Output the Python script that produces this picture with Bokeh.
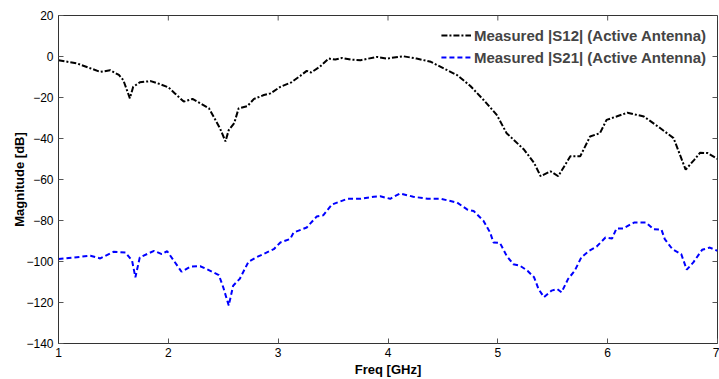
import math
from bokeh.plotting import figure
from bokeh.models import FixedTicker, Legend, LegendItem, Range1d
from bokeh.embed import file_html
from bokeh.resources import INLINE

freq_s12 = [1.0, 1.17, 1.38, 1.47, 1.55, 1.59, 1.65, 1.68, 1.74, 1.84, 1.93, 2.0, 2.06,
            2.14, 2.22, 2.29, 2.37, 2.41, 2.47, 2.52, 2.55, 2.6, 2.64, 2.72, 2.78, 2.87,
            2.93, 3.02, 3.12, 3.2, 3.26, 3.3, 3.38, 3.46, 3.52, 3.58, 3.66, 3.75, 3.9,
            3.99, 4.14, 4.26, 4.39, 4.51, 4.63, 4.75, 4.87, 4.99, 5.08, 5.24, 5.33, 5.39,
            5.48, 5.55, 5.66, 5.75, 5.84, 5.93, 5.99, 6.08, 6.18, 6.33, 6.48, 6.6, 6.71,
            6.79, 6.84, 6.91, 7.0]
s12_db = [-1.8, -3.4, -7.5, -6.7, -9.0, -11.5, -20.4, -14.8, -12.6, -12.0, -13.6, -15.0, -18.0,
          -22.0, -20.7, -22.8, -25.3, -29.1, -35.0, -41.4, -35.9, -32.5, -25.3, -24.2, -20.7, -18.8,
          -18.0, -14.8, -12.6, -9.5, -7.0, -7.8, -5.0, -1.0, -1.5, -0.7, -1.5, -1.8, -0.2,
          -1.0, 0.1, -1.0, -2.6, -5.9, -9.1, -14.4, -21.2, -28.5, -37.4, -45.5, -51.9, -58.4,
          -56.0, -58.4, -48.7, -48.7, -39.0, -37.4, -30.9, -29.3, -27.4, -29.3, -35.0, -39.8, -55.2,
          -50.3, -47.0, -47.1, -50.0]

freq_s21 = [1.0, 1.29, 1.38, 1.5, 1.61, 1.67, 1.7, 1.74, 1.87, 1.94, 1.99, 2.05, 2.12, 2.2,
            2.29, 2.35, 2.46, 2.5, 2.55, 2.59, 2.65, 2.73, 2.8, 2.96, 3.02, 3.11, 3.14, 3.26,
            3.35, 3.41, 3.49, 3.63, 3.75, 3.87, 3.93, 4.02, 4.11, 4.23, 4.36, 4.48, 4.63,
            4.72, 4.78, 4.87, 4.93, 4.96, 5.02, 5.08, 5.14, 5.2, 5.27, 5.33, 5.37, 5.42,
            5.49, 5.54, 5.58, 5.64, 5.7, 5.76, 5.83, 5.9, 5.98, 6.04, 6.08, 6.14, 6.24,
            6.35, 6.42, 6.49, 6.52, 6.59, 6.67, 6.72, 6.78, 6.86, 6.93, 7.0]
s21_db = [-98.8, -97.2, -98.5, -95.3, -95.6, -99.6, -107.7, -98.0, -94.8, -96.4, -95.0, -99.6, -105.0, -102.5,
          -102.3, -103.7, -106.6, -112.6, -121.5, -111.8, -108.5, -100.1, -98.0, -94.0, -90.7, -89.0, -85.9, -83.4,
          -78.1, -77.5, -72.2, -69.4, -69.4, -68.4, -68.2, -69.4, -66.8, -68.4, -69.4, -69.4, -71.3,
          -74.6, -75.4, -80.2, -85.9, -90.7, -91.0, -97.2, -101.3, -102.0, -104.5, -107.7, -113.4, -117.4,
          -114.2, -113.4, -115.0, -108.5, -104.5, -98.0, -94.8, -92.7, -88.3, -88.8, -83.9, -83.9, -81.0,
          -81.0, -84.3, -84.5, -89.1, -94.0, -96.4, -104.0, -100.4, -94.3, -93.2, -94.8]

x_ticks = [1, 2, 3, 4, 5, 6, 7]
y_ticks = [20, 0, -20, -40, -60, -80, -100, -120, -140]
labels = ["Measured |S12| (Active Antenna)", "Measured |S21| (Active Antenna)"]

FONT = "Liberation Sans"
TICK_COLOR = "#555555"

p = figure(width=719, height=379, output_backend="svg", toolbar_location=None,
           x_range=Range1d(min(x_ticks), max(x_ticks)), y_range=Range1d(min(y_ticks), max(y_ticks)),
           min_border_left=58, min_border_right=2, min_border_top=15, min_border_bottom=34)
p.background_fill_color = "white"
p.border_fill_color = "white"
p.grid.visible = False
p.outline_line_color = "#333333"
p.outline_line_width = 1

r1 = p.line(freq_s12, s12_db, line_color="black", line_width=2, line_dash="6 2 2 2")
r2 = p.line(freq_s21, s21_db, line_color="#0000ff", line_width=2, line_dash="5 3")

# mirrored inward ticks on top and right edges
p.ray(x=x_ticks, y=[max(y_ticks)] * len(x_ticks), length=5, length_units="screen",
      angle=-math.pi / 2, line_color=TICK_COLOR, line_width=1)
p.ray(x=[max(x_ticks)] * len(y_ticks), y=y_ticks, length=5, length_units="screen",
      angle=math.pi, line_color=TICK_COLOR, line_width=1)

for ax in [p.xaxis[0], p.yaxis[0]]:
    ax.major_tick_in = 5
    ax.major_tick_out = 0
    ax.minor_tick_in = 0
    ax.minor_tick_out = 0
    ax.axis_line_color = "#333333"
    ax.major_tick_line_color = TICK_COLOR
    ax.major_label_text_font = FONT
    ax.major_label_text_font_size = "12px"
    ax.major_label_text_color = "black"
    ax.axis_label_text_font = FONT
    ax.axis_label_text_font_style = "bold"
    ax.axis_label_text_font_size = "13px"
    ax.axis_label_text_color = "black"

p.xaxis[0].ticker = FixedTicker(ticks=x_ticks)
p.yaxis[0].ticker = FixedTicker(ticks=y_ticks)
p.xaxis[0].axis_label = "Freq [GHz]"
p.yaxis[0].axis_label = "Magnitude [dB]"
p.xaxis[0].major_label_standoff = 4
p.yaxis[0].major_label_standoff = 5
p.xaxis[0].axis_label_standoff = 2
p.yaxis[0].axis_label_standoff = -4

legend = Legend(items=[LegendItem(label=labels[0], renderers=[r1]),
                       LegendItem(label=labels[1], renderers=[r2])],
                location="top_right", label_text_font=FONT, label_text_font_style="bold",
                label_text_font_size="15px", background_fill_alpha=0, border_line_alpha=0,
                glyph_width=30, glyph_height=16, spacing=4, padding=5, margin=6,
                label_standoff=3, label_height=18)
p.add_layout(legend)

open("out.html", "w").write(file_html(p, INLINE))
